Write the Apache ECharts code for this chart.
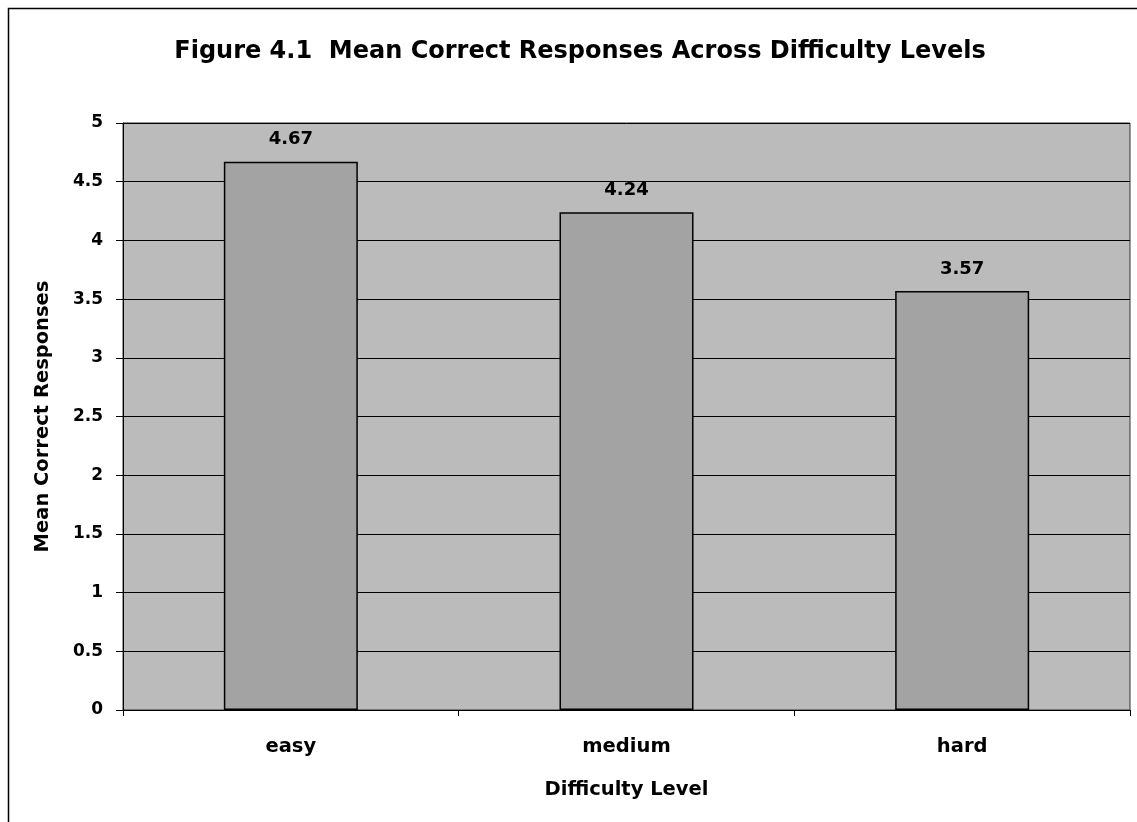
<!DOCTYPE html>
<html><head><meta charset="utf-8">
<script src="https://cdn.jsdelivr.net/npm/echarts@6/dist/echarts.min.js"></script>
<style>html,body{margin:0;padding:0;background:#fff}#c{width:1137px;height:822px}</style>
</head><body><div id="c"></div>
<script>
const categories = ['easy', 'medium', 'hard'];
const meanCorrect = [4.67, 4.24, 3.57];
const yTicks = [0, 0.5, 1, 1.5, 2, 2.5, 3, 3.5, 4, 4.5, 5];

const chart = echarts.init(document.getElementById('c'));
const font = 'DejaVu Sans, Verdana, sans-serif';
chart.setOption({
  backgroundColor: '#fff',
  animation: false,
  title: {
    text: 'Figure 4.1  Mean Correct Responses Across Difficulty Levels',
    left: 575, top: 35, textAlign: 'center',
    textStyle: { fontFamily: font, fontSize: 24, fontWeight: 'bold', color: '#000' }
  },
  graphic: [{
    type: 'rect', left: 6, top: 6, z: -1,
    shape: { width: 1140, height: 830 },
    style: { fill: 'none', stroke: '#000', lineWidth: 1.5 }
  }],
  grid: { left: 123, right: 7, top: 123, bottom: 112, show: true, backgroundColor: '#bbbbbb', borderColor: '#333', borderWidth: 1 },
  xAxis: {
    type: 'category', data: categories,
    name: 'Difficulty Level', nameLocation: 'middle', nameGap: 70,
    nameTextStyle: { fontFamily: font, fontSize: 19.5, fontWeight: 'bold', color: '#000' },
    axisLine: { lineStyle: { color: '#000', width: 1 } },
    axisTick: { show: true, length: 6, lineStyle: { color: '#000' } },
    axisLabel: { fontFamily: font, fontSize: 19.5, fontWeight: 'bold', color: '#000', margin: 27 }
  },
  yAxis: {
    type: 'value', min: 0, max: 5, interval: 0.5,
    name: 'Mean Correct Responses', nameLocation: 'middle', nameGap: 70, nameRotate: 90,
    nameTextStyle: { fontFamily: font, fontSize: 19.5, fontWeight: 'bold', color: '#000' },
    axisLine: { show: true, lineStyle: { color: '#000', width: 1 } },
    axisTick: { show: true, length: 7, lineStyle: { color: '#000' } },
    axisLabel: { fontFamily: font, fontSize: 17, fontWeight: 'bold', color: '#000', margin: 20,
      formatter: v => String(yTicks.find(t => Math.abs(t - v) < 1e-9) ?? v) },
    splitLine: { show: true, lineStyle: { color: '#000', width: 1 } }
  },
  series: [{
    type: 'bar', data: meanCorrect, barWidth: 134,
    itemStyle: { color: '#a3a3a3', borderColor: '#000', borderWidth: 1.5 },
    label: { show: true, position: 'top', distance: 13, fontFamily: font, fontSize: 18, fontWeight: 'bold', color: '#000',
      formatter: p => p.value.toFixed(2) }
  }]
});
</script></body></html>
